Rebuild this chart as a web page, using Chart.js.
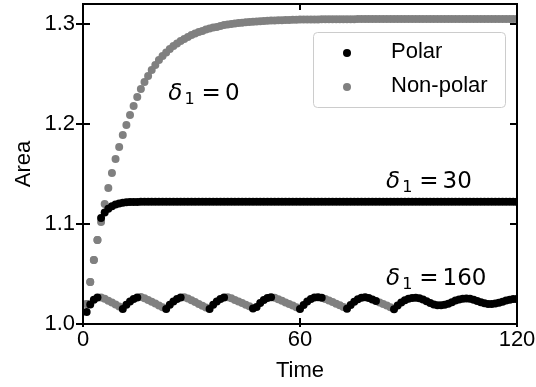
<!DOCTYPE html>
<html>
<head>
<meta charset="utf-8">
<script src="https://cdn.jsdelivr.net/npm/chart.js@4.4.1/dist/chart.umd.min.js"></script>
<style>
    html, body { margin: 0; padding: 0; background: #fff; }
</style>
</head>
<body>
<canvas id="grafico" width="536" height="387"></canvas>
<script>
// ── Datos ──
const tiempos = [
    1, 2, 3, 4, 5, 6, 7, 8, 9, 10, 11, 12, 13, 14, 15, 16, 17, 18, 19, 20,
    21, 22, 23, 24, 25, 26, 27, 28, 29, 30, 31, 32, 33, 34, 35, 36, 37, 38, 39, 40,
    41, 42, 43, 44, 45, 46, 47, 48, 49, 50, 51, 52, 53, 54, 55, 56, 57, 58, 59, 60,
    61, 62, 63, 64, 65, 66, 67, 68, 69, 70, 71, 72, 73, 74, 75, 76, 77, 78, 79, 80,
    81, 82, 83, 84, 85, 86, 87, 88, 89, 90, 91, 92, 93, 94, 95, 96, 97, 98, 99, 100,
    101, 102, 103, 104, 105, 106, 107, 108, 109, 110, 111, 112, 113, 114, 115, 116, 117, 118, 119, 120
];

// δ1 = 0
const areaDelta0 = [
    1.020, 1.042, 1.064, 1.084, 1.102, 1.120, 1.136, 1.151, 1.165, 1.177,
    1.189, 1.199, 1.209, 1.218, 1.227, 1.235, 1.242, 1.248, 1.254, 1.259,
    1.264, 1.268, 1.2715, 1.275, 1.278, 1.2805, 1.283, 1.285, 1.287, 1.289,
    1.2905, 1.292, 1.293, 1.2945, 1.2955, 1.2965, 1.297, 1.298, 1.299, 1.2995,
    1.300, 1.3005, 1.301, 1.3013, 1.3017, 1.302, 1.3023, 1.3026, 1.3028, 1.303,
    1.3032, 1.3034, 1.3036, 1.3037, 1.3038, 1.304, 1.3041, 1.3042, 1.3043, 1.3044,
    1.3044, 1.3045, 1.3045, 1.3046, 1.3046, 1.3047, 1.3047, 1.3047, 1.3048, 1.3048,
    1.3048, 1.3048, 1.3048, 1.3048, 1.3048, 1.3049, 1.3049, 1.3049, 1.3049, 1.3049,
    1.3049, 1.3049, 1.3049, 1.3049, 1.3049, 1.305, 1.305, 1.305, 1.305, 1.305,
    1.305, 1.305, 1.305, 1.305, 1.305, 1.305, 1.305, 1.305, 1.305, 1.305,
    1.305, 1.305, 1.305, 1.305, 1.305, 1.305, 1.305, 1.305, 1.305, 1.305,
    1.305, 1.305, 1.305, 1.305, 1.305, 1.305, 1.305, 1.305, 1.305, 1.305
];

// δ1 = 30
const areaDelta30 = [
    1.020, 1.042, 1.064, 1.084, 1.106, 1.1115, 1.1153, 1.1178, 1.1195, 1.1206,
    1.1213, 1.1217, 1.1219, 1.1220, 1.1221, 1.1222, 1.1222, 1.1222, 1.1222, 1.1222,
    1.1222, 1.1222, 1.1222, 1.1222, 1.1222, 1.1222, 1.1222, 1.1222, 1.1222, 1.1222,
    1.1222, 1.1222, 1.1222, 1.1222, 1.1222, 1.1222, 1.1222, 1.1222, 1.1222, 1.1222,
    1.1222, 1.1222, 1.1222, 1.1222, 1.1222, 1.1222, 1.1222, 1.1222, 1.1222, 1.1222,
    1.1222, 1.1222, 1.1222, 1.1222, 1.1222, 1.1222, 1.1222, 1.1222, 1.1222, 1.1222,
    1.1222, 1.1222, 1.1222, 1.1222, 1.1222, 1.1222, 1.1222, 1.1222, 1.1222, 1.1222,
    1.1222, 1.1222, 1.1222, 1.1222, 1.1222, 1.1222, 1.1222, 1.1222, 1.1222, 1.1222,
    1.1222, 1.1222, 1.1222, 1.1222, 1.1222, 1.1222, 1.1222, 1.1222, 1.1222, 1.1222,
    1.1222, 1.1222, 1.1222, 1.1222, 1.1222, 1.1222, 1.1222, 1.1222, 1.1222, 1.1222,
    1.1222, 1.1222, 1.1222, 1.1222, 1.1222, 1.1222, 1.1222, 1.1222, 1.1222, 1.1222,
    1.1222, 1.1222, 1.1222, 1.1222, 1.1222, 1.1222, 1.1222, 1.1222, 1.1222, 1.1222
];

// δ1 = 160
const areaDelta160 = [
    1.0120, 1.0195, 1.0243, 1.0265, 1.0266, 1.0252, 1.0233, 1.0214, 1.0195, 1.0176,
    1.0150, 1.0192, 1.0226, 1.0251, 1.0266, 1.0269, 1.0258, 1.0240, 1.0222, 1.0204,
    1.0186, 1.0168, 1.0150, 1.0192, 1.0226, 1.0251, 1.0266, 1.0268, 1.0255, 1.0237,
    1.0219, 1.0201, 1.0183, 1.0166, 1.0150, 1.0192, 1.0226, 1.0251, 1.0266, 1.0268,
    1.0257, 1.0241, 1.0225, 1.0209, 1.0193, 1.0177, 1.0154, 1.0170, 1.0210, 1.0240,
    1.0260, 1.0268, 1.0263, 1.0248, 1.0232, 1.0216, 1.0200, 1.0184, 1.0168, 1.0150,
    1.0190, 1.0224, 1.0249, 1.0264, 1.0268, 1.0262, 1.0250, 1.0235, 1.0219, 1.0203,
    1.0187, 1.0170, 1.0152, 1.0190, 1.0222, 1.0247, 1.0262, 1.0267, 1.0260, 1.0245,
    1.0230, 1.0215, 1.0200, 1.0185, 1.0168, 1.0148, 1.0185, 1.0215, 1.0238, 1.0253,
    1.0261, 1.0263, 1.0258, 1.0245, 1.0228, 1.0210, 1.0196, 1.0188, 1.0187, 1.0192,
    1.0203, 1.0218, 1.0234, 1.0246, 1.0253, 1.0255, 1.0252, 1.0243, 1.0230, 1.0217,
    1.0207, 1.0201, 1.0200, 1.0204, 1.0212, 1.0223, 1.0234, 1.0243, 1.0249, 1.0251
];

// tramos de tiempo [desde, hasta] en estado polar
const polarDelta0   = [];
const polarDelta30  = [[5, 120]];
const polarDelta160 = [[1, 4], [11, 15], [23, 27], [35, 39], [47, 52], [60, 66], [73, 81], [86, 120]];

const series       = ['Polar', 'Non-polar'];
const valoresDelta = ['0', '30', '160'];
const ticksX = [0, 60, 120];
const ticksY = [1.0, 1.1, 1.2, 1.3];

// ── Puntos por estado ──
const curvas = [
    { valores: areaDelta0,   tramos: polarDelta0 },
    { valores: areaDelta30,  tramos: polarDelta30 },
    { valores: areaDelta160, tramos: polarDelta160 }
];
const esPolar = (t, tramos) => tramos.some(([a, b]) => t >= a && t <= b);
const puntosPolar = [], puntosNoPolar = [];
curvas.forEach(c => c.valores.forEach((v, i) => {
    const p = { x: tiempos[i], y: v };
    (esPolar(tiempos[i], c.tramos) ? puntosPolar : puntosNoPolar).push(p);
}));

Chart.defaults.font.family = '"Liberation Sans", Arial, sans-serif';
Chart.defaults.color = '#000';

// ── Marco y ticks (dentro/fuera) ──
const marco = {
    id: 'marco',
    afterDatasetsDraw(chart) {
        const { ctx, chartArea: a, scales: { x, y } } = chart;
        ctx.save();
        ctx.strokeStyle = '#000';
        ctx.lineWidth = 2;
        ctx.strokeRect(a.left, a.top, a.right - a.left, a.bottom - a.top);
        ctx.beginPath();
        ticksX.forEach(v => {
            const px = x.getPixelForValue(v);
            ctx.moveTo(px, a.bottom - 6); ctx.lineTo(px, a.bottom + 3);
            ctx.moveTo(px, a.top);        ctx.lineTo(px, a.top + 6);
        });
        ticksY.forEach(v => {
            const py = y.getPixelForValue(v);
            ctx.moveTo(a.left - 7, py);  ctx.lineTo(a.left + 7, py);
            ctx.moveTo(a.right - 7, py); ctx.lineTo(a.right, py);
        });
        ctx.stroke();
        ctx.restore();
    }
};

// ── Etiquetas δ1 = ... ──
function dibujarDelta(ctx, x, y, valor) {
    ctx.fillStyle = '#000';
    ctx.textAlign = 'left';
    ctx.textBaseline = 'alphabetic';
    ctx.font = 'italic 23px "DejaVu Sans"';
    ctx.fillText('δ', x, y);
    let cx = x + ctx.measureText('δ').width + 2;
    ctx.font = '16px "DejaVu Sans"';
    ctx.fillText('1', cx, y + 4);
    cx += ctx.measureText('1').width + 7;
    ctx.font = '23px "DejaVu Sans"';
    ctx.fillText('=', cx, y);
    cx += ctx.measureText('=').width + 4;
    ctx.fillText(valor, cx, y);
}
const anotaciones = {
    id: 'anotaciones',
    afterDatasetsDraw(chart) {
        const { ctx, scales: { x, y } } = chart;
        const anclas = [[23.6, 1.224], [83.8, 1.136], [83.8, 1.0395]];
        ctx.save();
        valoresDelta.forEach((v, i) => {
            dibujarDelta(ctx, x.getPixelForValue(anclas[i][0]), y.getPixelForValue(anclas[i][1]), v);
        });
        ctx.restore();
    }
};

// ── Leyenda con marco ──
const leyenda = {
    id: 'leyenda',
    afterDraw(chart) {
        const { ctx, chartArea: a } = chart;
        const bx = a.right - 204, by = a.top + 28, bw = 192, bh = 75;
        ctx.save();
        ctx.beginPath();
        ctx.roundRect(bx + 0.5, by + 0.5, bw, bh, 4);
        ctx.fillStyle = 'rgba(255,255,255,0.8)';
        ctx.fill();
        ctx.strokeStyle = '#cccccc';
        ctx.lineWidth = 1;
        ctx.stroke();
        chart.data.datasets.forEach((ds, i) => {
            const cy = by + 21 + i * 34;
            ctx.beginPath();
            ctx.arc(bx + 34, cy, 4, 0, Math.PI * 2);
            ctx.fillStyle = ds.backgroundColor;
            ctx.fill();
            ctx.fillStyle = '#000';
            ctx.font = '22px "Liberation Sans"';
            ctx.textBaseline = 'middle';
            ctx.fillText(ds.label, bx + 78, cy - 1);
        });
        ctx.restore();
    }
};

new Chart(document.getElementById('grafico'), {
    type: 'scatter',
    data: {
        datasets: [
            { label: series[0], data: puntosPolar,   backgroundColor: '#000000', borderWidth: 0, pointRadius: 4, clip: 0 },
            { label: series[1], data: puntosNoPolar, backgroundColor: '#808080', borderWidth: 0, pointRadius: 4, clip: 0 }
        ]
    },
    options: {
        responsive: false,
        animation: false,
        layout: { padding: { top: 3, right: 19, left: 0, bottom: 0 } },
        plugins: { legend: { display: false }, tooltip: { enabled: false } },
        scales: {
            x: {
                type: 'linear', min: 0, max: 120,
                afterBuildTicks: s => { s.ticks = ticksX.map(v => ({ value: v })); },
                afterFit: s => { s.height = 63; s.paddingLeft = 0; s.paddingRight = 0; },
                ticks: { font: { size: 22 }, padding: 3, maxRotation: 0, autoSkip: false },
                grid: { display: false, drawTicks: false },
                border: { display: false },
                title: { display: true, text: 'Time', font: { size: 22 }, padding: { top: 0, bottom: 3 } }
            },
            y: {
                type: 'linear', min: 1.0, max: 1.32,
                afterBuildTicks: s => { s.ticks = ticksY.map(v => ({ value: v })); },
                afterFit: s => { s.width = 83; s.paddingTop = 0; s.paddingBottom = 0; },
                ticks: { font: { size: 22 }, padding: 8, autoSkip: false, callback: v => v.toFixed(1) },
                grid: { display: false, drawTicks: false },
                border: { display: false },
                title: { display: true, text: 'Area', font: { size: 22 }, padding: { top: 11, bottom: 0 } }
            }
        }
    },
    plugins: [marco, anotaciones, leyenda]
});
</script>
</body>
</html>
